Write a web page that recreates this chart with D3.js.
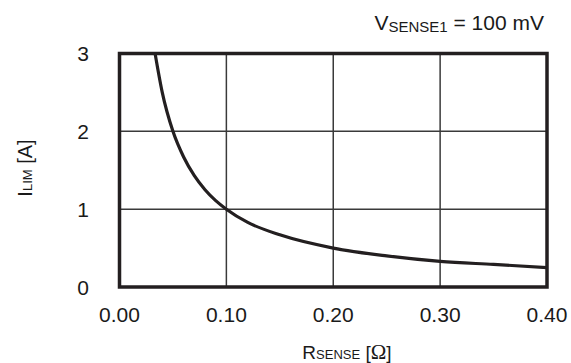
<!DOCTYPE html>
<html>
<head>
<meta charset="utf-8">
<script src="https://cdn.jsdelivr.net/npm/d3@7"></script>
<style>
  html, body { margin: 0; padding: 0; background: #fff; }
  svg { display: block; font-family: "Liberation Sans", Arial, sans-serif; }
</style>
</head>
<body>
<svg id="chart" width="571" height="363"></svg>
<script>
// Current limit versus sense resistance at V_SENSE1 = 100 mV
const rSense = [0.0333, 0.04, 0.05, 0.06, 0.07, 0.08, 0.09, 0.10, 0.12, 0.15, 0.20, 0.25, 0.30, 0.35, 0.40];
const iLim   = [3.00, 2.50, 2.00, 1.67, 1.43, 1.25, 1.11, 1.00, 0.83, 0.67, 0.50, 0.40, 0.33, 0.29, 0.25];
const xTicks = [0, 0.1, 0.2, 0.3, 0.4];
const xTickLabels = ["0.00", "0.10", "0.20", "0.30", "0.40"];
const yTicks = [0, 1, 2, 3];
const yTickLabels = ["0", "1", "2", "3"];

const svg = d3.select("#chart");
const plotL = 119.5, plotR = 547, plotT = 53.5, plotB = 287;
const x = d3.scaleLinear().domain([0, 0.4]).range([plotL, plotR]);
const y = d3.scaleLinear().domain([0, 3]).range([plotB, plotT]);
const ink = "#231f20";
const textInk = "#1a1a1a";

// grid
const grid = svg.append("g").attr("stroke", "#3a3a3a").attr("stroke-width", 1.5);
grid.selectAll("line.v").data(xTicks.slice(1, -1)).join("line")
  .attr("x1", d => x(d)).attr("x2", d => x(d)).attr("y1", plotT).attr("y2", plotB);
grid.selectAll("line.h").data(yTicks.slice(1, -1)).join("line")
  .attr("x1", plotL).attr("x2", plotR).attr("y1", d => y(d)).attr("y2", d => y(d));

// curve
svg.append("clipPath").attr("id", "plot").append("rect")
  .attr("x", plotL).attr("y", plotT).attr("width", plotR - plotL).attr("height", plotB - plotT);
const pts = rSense.map((r, i) => [r, iLim[i]]);
svg.append("path")
  .datum(pts)
  .attr("clip-path", "url(#plot)")
  .attr("fill", "none").attr("stroke", ink).attr("stroke-width", 3.2)
  .attr("d", d3.line().x(d => x(d[0])).y(d => y(d[1])).curve(d3.curveMonotoneX));

// frame
svg.append("rect").attr("x", plotL).attr("y", plotT)
  .attr("width", plotR - plotL).attr("height", plotB - plotT)
  .attr("fill", "none").attr("stroke", ink).attr("stroke-width", 3.5);

// tick labels
svg.append("g").selectAll("text").data(xTicks).join("text")
  .attr("x", d => x(d)).attr("y", 322)
  .attr("text-anchor", "middle").attr("font-size", 21).attr("fill", textInk)
  .text((d, i) => xTickLabels[i]);
svg.append("g").selectAll("text").data(yTicks).join("text")
  .attr("x", 89).attr("y", d => y(d) + 7.5)
  .attr("text-anchor", "end").attr("font-size", 21).attr("fill", textInk)
  .text((d, i) => yTickLabels[i]);

// x axis title
const xt = svg.append("text").attr("x", 347).attr("y", 359)
  .attr("text-anchor", "middle").attr("fill", textInk).attr("font-size", 19);
xt.append("tspan").text("R");
xt.append("tspan").attr("font-size", 13).text("SENSE");
xt.append("tspan").text(" [");
xt.append("tspan").attr("font-family", "'Liberation Serif', serif").attr("font-size", 21).text("Ω");
xt.append("tspan").text("]");

// y axis title
const yt = svg.append("text")
  .attr("transform", "translate(32,168) rotate(-90)")
  .attr("text-anchor", "middle").attr("fill", textInk).attr("font-size", 20);
yt.append("tspan").text("I");
yt.append("tspan").attr("font-size", 13).text("LIM");
yt.append("tspan").text(" [A]");

// condition note
const note = svg.append("text").attr("x", 544).attr("y", 30)
  .attr("text-anchor", "end").attr("fill", textInk).attr("font-size", 21);
note.append("tspan").text("V");
note.append("tspan").attr("font-size", 15).attr("dy", 2).text("SENSE1");
note.append("tspan").attr("dy", -2).text(" = 100 mV");
</script>
</body>
</html>
